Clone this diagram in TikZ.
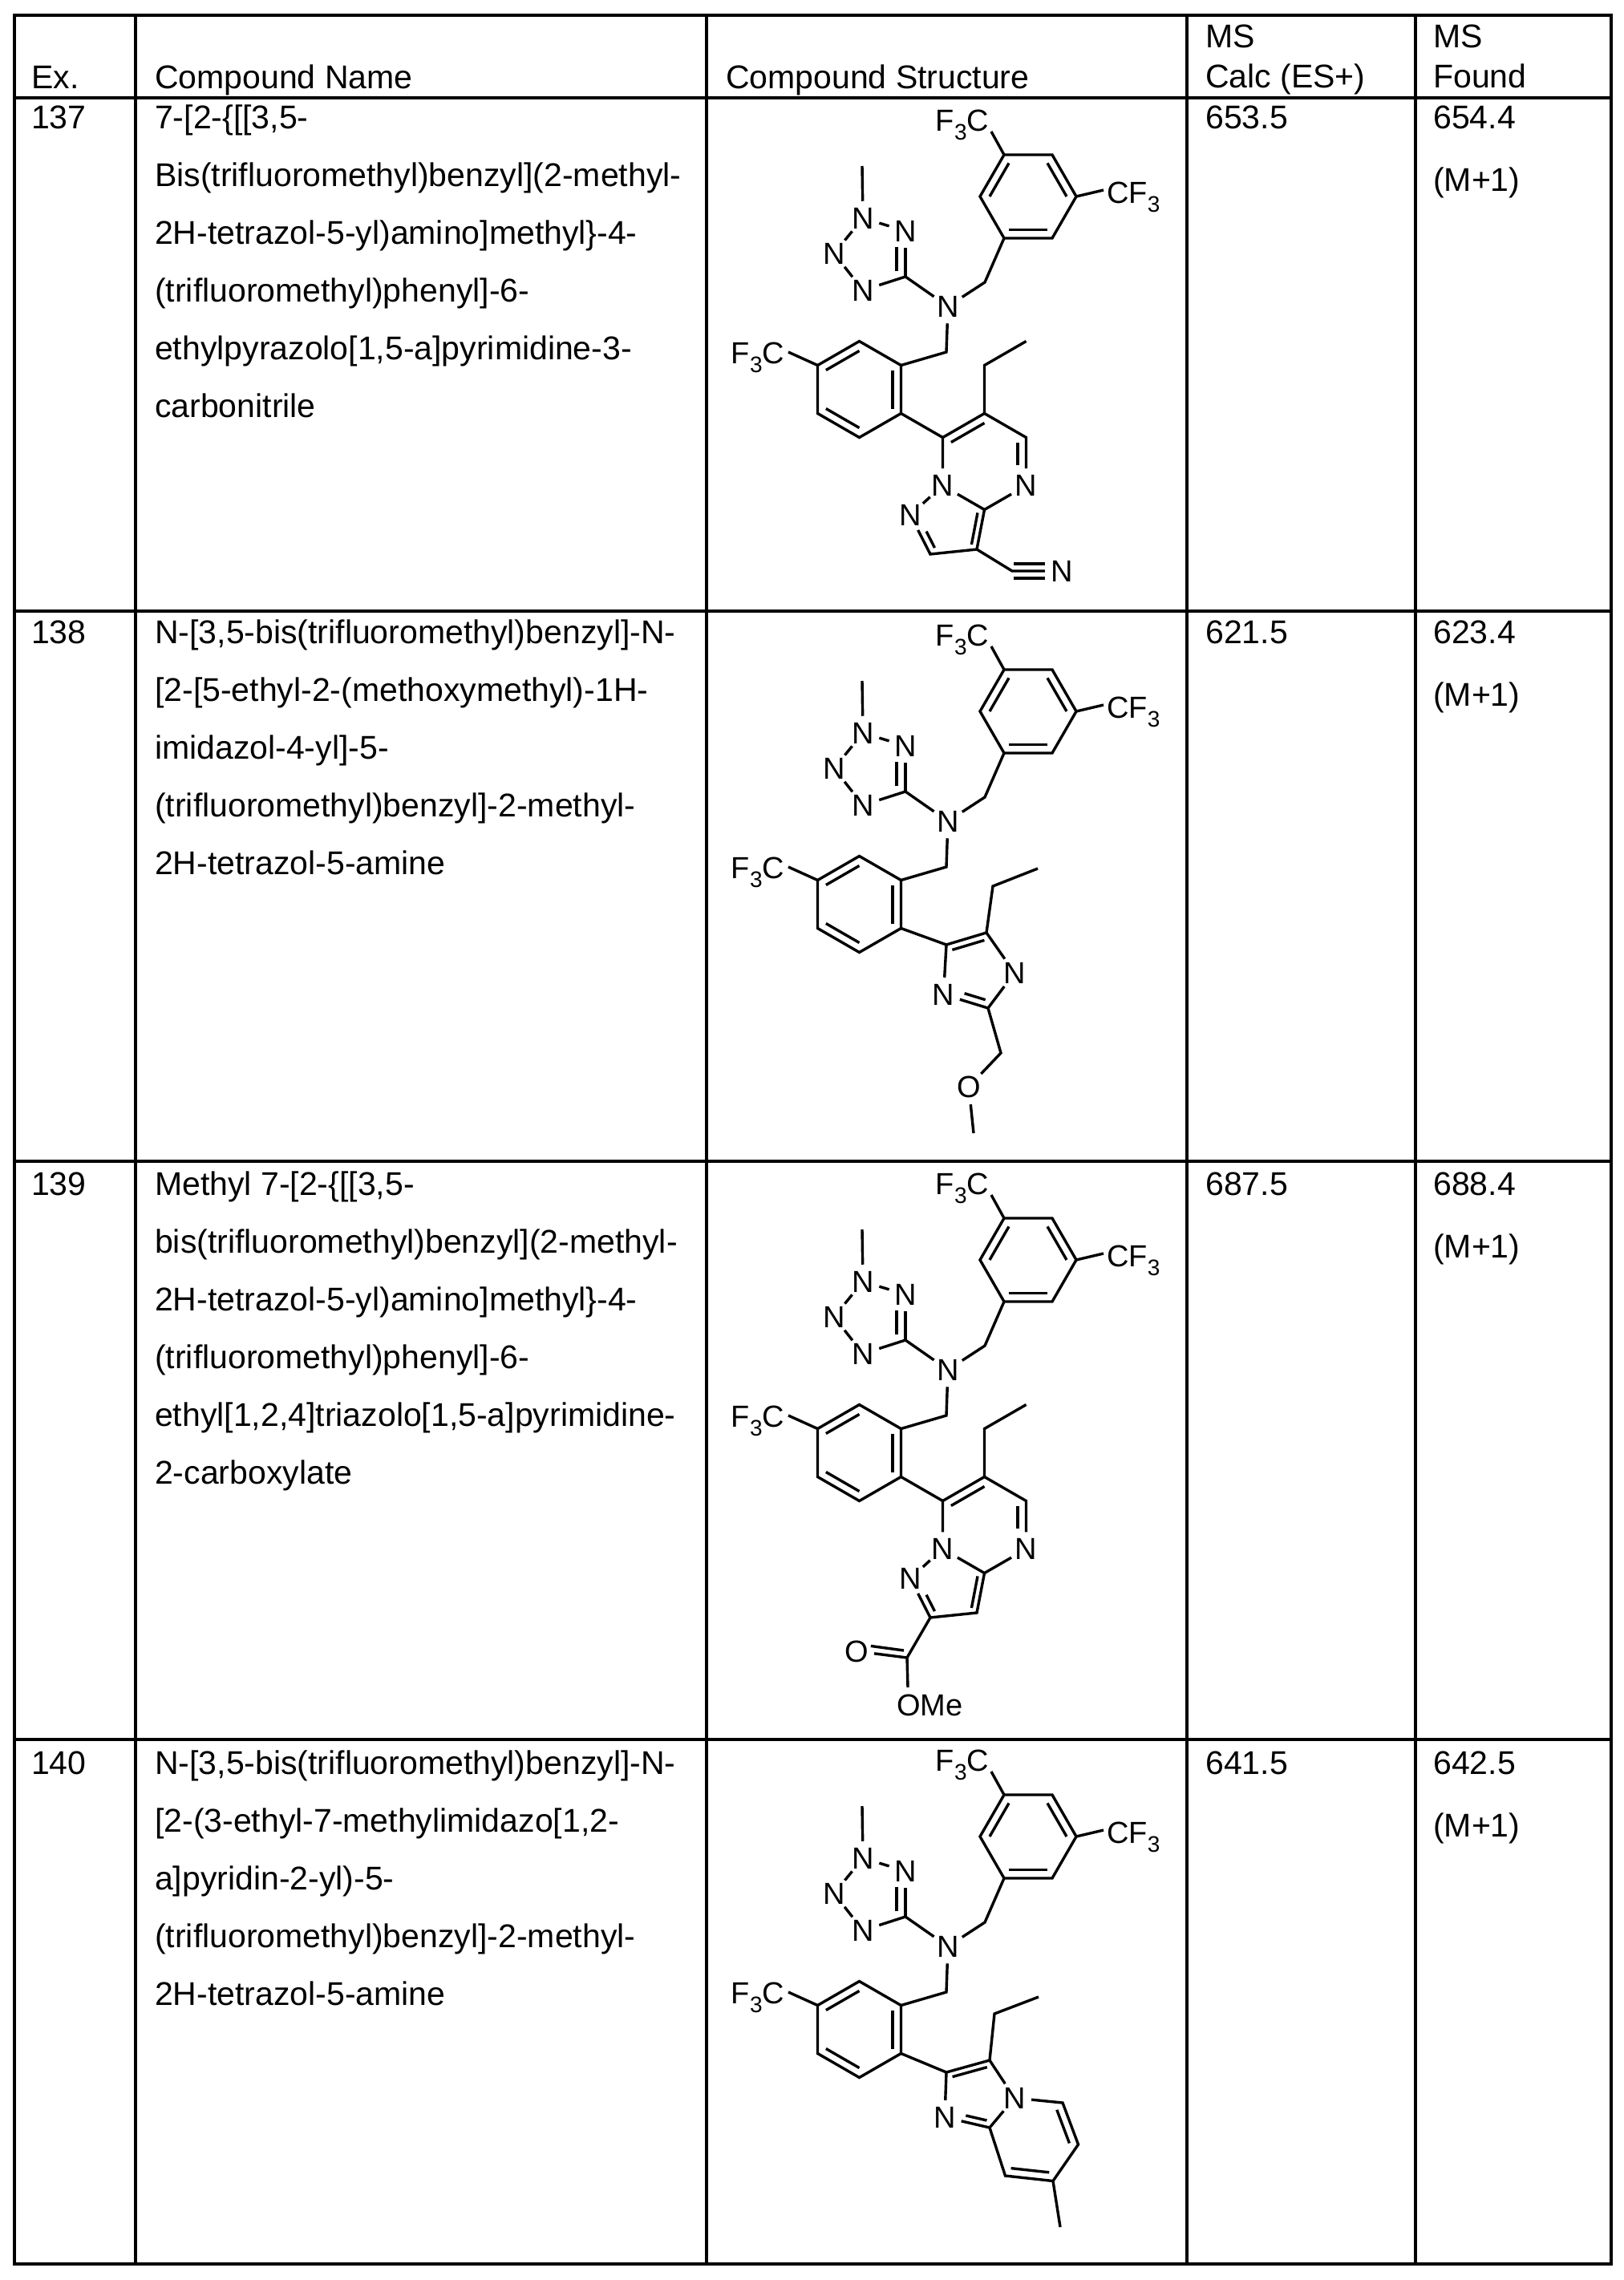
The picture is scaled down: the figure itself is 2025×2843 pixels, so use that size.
\documentclass[tikz,border=0pt]{standalone}
\usepackage{fontspec}
\setmainfont{Liberation Sans}
\usetikzlibrary{calc}
\newcommand\lowsub[1]{\raisebox{-0.3em}{\fontsize{28}{28}\selectfont #1}}
\newcommand\inb[4][]{\draw[bond,#1] ($(#2)!0.2!(#4)$) -- ($(#3)!0.2!(#4)$);}
\tikzset{
  grid/.style={line width=4.5pt},
  bond/.style={line width=3.4pt},
  txt/.style={anchor=base west, inner sep=0pt, font=\fontsize{41}{50}\selectfont},
  lbl/.style={inner sep=0pt, font=\fontsize{38}{38}\selectfont},
  atom/.style={circle, inner sep=1.5pt, font=\fontsize{38}{38}\selectfont},
}
% common part: tetrazole, amine, two aryl rings
\newcommand\core[2]{%
\begin{scope}[shift={(0,#2)}]
\coordinate (#1-A1) at (1252,193); \coordinate (#1-A2) at (1312,193);
\coordinate (#1-A3) at (1342,245); \coordinate (#1-A4) at (1312,297);
\coordinate (#1-A5) at (1252,297); \coordinate (#1-A6) at (1222,245);
\coordinate (#1-Ac) at (1282,245);
\coordinate (#1-B1) at (1071.5,425.5); \coordinate (#1-B2) at (1123.5,455.5);
\coordinate (#1-B3) at (1123.5,515.5); \coordinate (#1-B4) at (1071.5,545.5);
\coordinate (#1-B5) at (1019.5,515.5); \coordinate (#1-B6) at (1019.5,455.5);
\coordinate (#1-Bc) at (1071.5,485.5);
\coordinate (#1-t1) at (1236,164); \coordinate (#1-t2) at (1376,237);
\coordinate (#1-t3) at (983,439);
\coordinate (#1-m1) at (1228,352); \coordinate (#1-m2) at (1180,439);
\coordinate (#1-C5t) at (1129,345); \coordinate (#1-me) at (1075,207);
\node[atom] (#1-Na) at (1182,382) {N};
\node[atom] (#1-N2) at (1076,272) {N};
\node[atom] (#1-N3) at (1129,288) {N};
\node[atom] (#1-N1) at (1040,316) {N};
\node[atom] (#1-N4) at (1076,362) {N};
\node[lbl, anchor=base] (#1-L1) at (1200,163) {F\lowsub{3}C};
\node[lbl, anchor=base west] (#1-L2) at (1380,253) {CF\lowsub{3}};
\node[lbl, anchor=base] (#1-L3) at (945,453) {F\lowsub{3}C};
\draw[bond] (#1-A1)--(#1-A2)--(#1-A3)--(#1-A4)--(#1-A5)--(#1-A6)--cycle;
\inb{#1-A1}{#1-A6}{#1-Ac}\inb{#1-A2}{#1-A3}{#1-Ac}\inb{#1-A4}{#1-A5}{#1-Ac}
\draw[bond] (#1-B1)--(#1-B2)--(#1-B3)--(#1-B4)--(#1-B5)--(#1-B6)--cycle;
\inb{#1-B1}{#1-B6}{#1-Bc}\inb{#1-B2}{#1-B3}{#1-Bc}\inb{#1-B4}{#1-B5}{#1-Bc}
\draw[bond] (#1-A1)--(#1-t1);
\draw[bond] (#1-A3)--(#1-t2);
\draw[bond] (#1-B6)--(#1-t3);
\draw[bond] (#1-A5)--(#1-m1)--(#1-Na);
\draw[bond] (#1-Na)--(#1-m2)--(#1-B2);
\draw[bond] (#1-Na)--(#1-C5t);
\draw[bond] (#1-C5t)--(#1-N3);
\draw[bond] (#1-C5t)--(#1-N4);
\draw[bond] (#1-N4)--(#1-N1);
\draw[bond] (#1-N1)--(#1-N2);
\draw[bond] (#1-N2)--(#1-N3);
\draw[bond] (#1-N2)--(#1-me);
\draw[bond] (1118,308)--(1118,338);
\end{scope}}
% pyrazolo[1,5-a]pyrimidine part
\newcommand\pyrpyr[2]{%
\begin{scope}[shift={(0,#2)}]
\coordinate (#1-C7) at (1175.5,545.5); \coordinate (#1-C6) at (1227.5,515.5);
\coordinate (#1-C5) at (1279.5,545.5); \coordinate (#1-C3a) at (1227.5,635.5);
\node[atom] (#1-P4) at (1279.5,605.5) {N};
\node[atom] (#1-P1) at (1175.5,605.5) {N};
\coordinate (#1-Pc) at (1227.5,575.5);
\coordinate (#1-e1) at (1227.5,455.5); \coordinate (#1-e2) at (1279.5,425.5);
\node[atom] (#1-P2) at (1135,642) {N};
\coordinate (#1-C3) at (1160,691); \coordinate (#1-C4) at (1218,685);
\coordinate (#1-Zc) at (1185,655);
\draw[bond] (#1-B3)--(#1-C7);
\draw[bond] (#1-C7)--(#1-C6)--(#1-C5)--(#1-P4)--(#1-C3a)--(#1-P1)--(#1-C7);
\inb{#1-C7}{#1-C6}{#1-Pc}
\draw[bond, shorten >=20pt] ($(#1-C5)!0.2!(#1-Pc)$) -- ($(#1-P4)!0.2!(#1-Pc)$);
\draw[bond] (#1-C6)--(#1-e1)--(#1-e2);
\draw[bond] (#1-P1)--(#1-P2)--(#1-C3)--(#1-C4)--(#1-C3a);
\draw[bond, shorten <=20pt] ($(#1-P2)!0.22!(#1-Zc)$) -- ($(#1-C3)!0.22!(#1-Zc)$);
\inb[]{#1-C4}{#1-C3a}{#1-Zc}
\end{scope}}
\begin{document}
\begin{tikzpicture}[x=1pt,y=-1pt]
\useasboundingbox (0,0) rectangle (2025,2843);
% table
\draw[grid] (18,19) rectangle (2009,2823);
\foreach \xx in {169,881,1480,1765} \draw[grid] (\xx,19) -- (\xx,2823);
\foreach \yy in {122,762,1448,2169} \draw[grid] (18,\yy) -- (2009,\yy);
% header
\node[txt] (hEx) at (39,110) {Ex.};
\node[txt] (hName) at (193,110) {Compound Name};
\node[txt] (hStr) at (905,110) {Compound Structure};
\node[txt] (hC1) at (1503,59) {MS};
\node[txt] (hC2) at (1503,109) {Calc (ES+)};
\node[txt] (hF1) at (1787,59) {MS};
\node[txt] (hF2) at (1787,109) {Found};
% row texts
\node[txt] (e137) at (39,160) {137};
\node[txt] (e138) at (39,802) {138};
\node[txt] (e139) at (39,1490) {139};
\node[txt] (e140) at (39,2212) {140};
\foreach \t [count=\i] in {{7-[2-\{[[3,5-},{Bis(trifluoromethyl)benzyl](2-methyl-},{2H-tetrazol-5-yl)amino]methyl\}-4-},{(trifluoromethyl)phenyl]-6-},{ethylpyrazolo[1,5-a]pyrimidine-3-},{carbonitrile}}
  \node[txt] (a137-\i) at (193,160+72*\i-72) {\t};
\foreach \t [count=\i] in {{N-[3,5-bis(trifluoromethyl)benzyl]-N-},{[2-[5-ethyl-2-(methoxymethyl)-1H-},{imidazol-4-yl]-5-},{(trifluoromethyl)benzyl]-2-methyl-},{2H-tetrazol-5-amine}}
  \node[txt] (a138-\i) at (193,802+72*\i-72) {\t};
\foreach \t [count=\i] in {{Methyl 7-[2-\{[[3,5-},{bis(trifluoromethyl)benzyl](2-methyl-},{2H-tetrazol-5-yl)amino]methyl\}-4-},{(trifluoromethyl)phenyl]-6-},{ethyl[1,2,4]triazolo[1,5-a]pyrimidine-},{2-carboxylate}}
  \node[txt] (a139-\i) at (193,1490+72*\i-72) {\t};
\foreach \t [count=\i] in {{N-[3,5-bis(trifluoromethyl)benzyl]-N-},{[2-(3-ethyl-7-methylimidazo[1,2-},{a]pyridin-2-yl)-5-},{(trifluoromethyl)benzyl]-2-methyl-},{2H-tetrazol-5-amine}}
  \node[txt] (a140-\i) at (193,2212+72*\i-72) {\t};
\node[txt] (c137) at (1503,160) {653.5};
\node[txt] (f137) at (1787,160) {654.4};
\node[txt] (g137) at (1787,238) {(M+1)};
\node[txt] (c138) at (1503,802) {621.5};
\node[txt] (f138) at (1787,802) {623.4};
\node[txt] (g138) at (1787,880) {(M+1)};
\node[txt] (c139) at (1503,1490) {687.5};
\node[txt] (f139) at (1787,1490) {688.4};
\node[txt] (g139) at (1787,1568) {(M+1)};
\node[txt] (c140) at (1503,2212) {641.5};
\node[txt] (f140) at (1787,2212) {642.5};
\node[txt] (g140) at (1787,2290) {(M+1)};
% ---------- 137
\core{r1}{0}
\pyrpyr{r1}{0}
\coordinate (r1-Cn) at (1262,712);
\node[atom] (r1-Nn) at (1324,712) {N};
\draw[bond] (r1-C4)--(r1-Cn)--(r1-Nn);
\draw[bond] (1264,703)--(1303,703);
\draw[bond] (1264,721)--(1303,721);
% ---------- 138
\core{r2}{642}
\begin{scope}[shift={(0,642)}]
\coordinate (r2-C4) at (1180,536); \coordinate (r2-C5) at (1230,521);
\node[atom] (r2-N3) at (1265,571) {N};
\coordinate (r2-C2) at (1232,615);
\node[atom] (r2-N1) at (1176.5,598) {N};
\coordinate (r2-Ic) at (1217,568);
\coordinate (r2-e1) at (1238,463); \coordinate (r2-e2) at (1294,441);
\coordinate (r2-m) at (1248,671);
\node[atom] (r2-O) at (1208,713) {O};
\coordinate (r2-me) at (1214,771);
\draw[bond] (r2-B3)--(r2-C4)--(r2-C5)--(r2-N3)--(r2-C2)--(r2-N1)--(r2-C4);
\inb{r2-C4}{r2-C5}{r2-Ic}
\draw[bond, shorten <=18pt] ($(r2-N1)!0.22!(r2-Ic)$) -- ($(r2-C2)!0.22!(r2-Ic)$);
\draw[bond] (r2-C5)--(r2-e1)--(r2-e2);
\draw[bond] (r2-C2)--(r2-m)--(r2-O)--(r2-me);
\end{scope}
% ---------- 139
\core{r3}{1326}
\pyrpyr{r3}{1326}
\begin{scope}[shift={(0,1326)}]
\coordinate (r3-Cc) at (1131,741);
\node[atom] (r3-Oq) at (1068,733) {O};
\node[lbl, anchor=base west] (r3-OMe) at (1118,813) {OMe};
\coordinate (r3-Ob) at (1132,778);
\draw[bond] (r3-C3)--(r3-Cc)--(r3-Oq);
\draw[bond, shorten >=18pt] (1127,732)--($(r3-Oq)+(0,-9)$);
\draw[bond] (r3-Cc)--(r3-Ob);
\end{scope}
% ---------- 140
\core{r4}{2045}
\begin{scope}[shift={(0,2045)}]
\coordinate (r4-C2) at (1180,539); \coordinate (r4-C3) at (1234,524);
\node[atom] (r4-N4) at (1265,571) {N};
\coordinate (r4-C8a) at (1234,608);
\node[atom] (r4-N1) at (1178,595) {N};
\coordinate (r4-Ic) at (1218,567);
\coordinate (r4-C5) at (1325,577); \coordinate (r4-C6) at (1344.5,629);
\coordinate (r4-C7) at (1313,674.5); \coordinate (r4-C8) at (1253.5,668);
\coordinate (r4-Pc) at (1289,621);
\coordinate (r4-me) at (1322,732);
\coordinate (r4-e1) at (1240,466); \coordinate (r4-e2) at (1295,445);
\draw[bond] (r4-B3)--(r4-C2)--(r4-C3)--(r4-N4)--(r4-C8a)--(r4-N1)--(r4-C2);
\inb{r4-C2}{r4-C3}{r4-Ic}
\draw[bond, shorten <=18pt] ($(r4-N1)!0.22!(r4-Ic)$) -- ($(r4-C8a)!0.22!(r4-Ic)$);
\draw[bond] (r4-N4)--(r4-C5)--(r4-C6)--(r4-C7)--(r4-C8)--(r4-C8a);
\inb{r4-C5}{r4-C6}{r4-Pc}\inb{r4-C7}{r4-C8}{r4-Pc}
\draw[bond] (r4-C7)--(r4-me);
\draw[bond] (r4-C3)--(r4-e1)--(r4-e2);
\end{scope}
\end{tikzpicture}
\end{document}
